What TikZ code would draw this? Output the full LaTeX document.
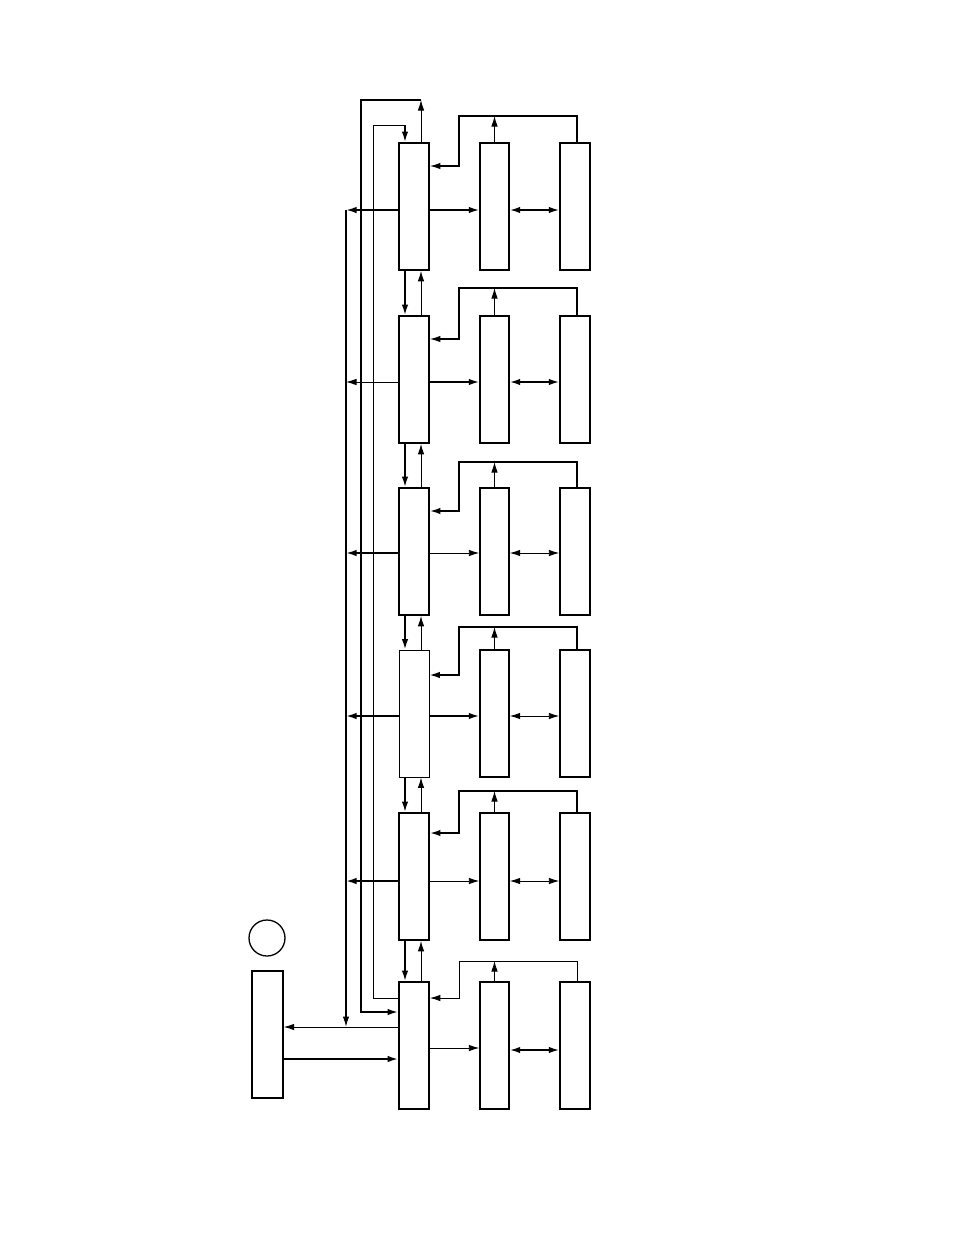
\documentclass[tikz,border=0pt]{standalone}
\usetikzlibrary{arrows.meta,calc}
\begin{document}
\begin{tikzpicture}[x=1pt,y=-1pt,
 thk/.style={line width=1.8pt},
 thn/.style={line width=0.9pt},
 med/.style={line width=1.3pt},
 arr/.style={-{Latex[length=10.5pt,width=6.5pt]}},
 darr/.style={{Latex[length=10.5pt,width=6.5pt]}-{Latex[length=10.5pt,width=6.5pt]}},
 mbox/.style={draw,minimum width=30pt,minimum height=127pt,inner sep=0pt},
 sbox/.style={draw,line width=1.4pt,minimum width=29pt,minimum height=127pt,inner sep=0pt},
]
\useasboundingbox (0,0) rectangle (954,1235);
\coordinate (busL) at (346,0);
\coordinate (xd) at (405,0);
\coordinate (xu) at (421,0);
\coordinate (xb) at (577,0);
\coordinate (xf) at (459,0);
\coordinate (tc) at (421,100);
\coordinate (tb) at (405,125);

% boxes and row connectors
\foreach \i/\T/\F/\A/\M/\D/\ls/\rs/\ds/\fs/\mb in {
  1/143/116/166/210/210/1.8/1.8/1.8/1.3/1.8,
  2/316/288/339/382/382/0.9/1.8/1.8/1.3/1.8,
  3/488/462/511/553/553/1.8/0.9/0.9/1.6/1.8,
  4/650/627/675/716/716/1.8/1.8/0.9/1.6/0.9,
  5/813/791/833/881/881/1.8/0.9/0.9/1.8/1.8,
  6/982/961/998/1048/1050/0/0.9/1.8/0.9/1.8}{
  \node[mbox,line width=\mb pt] (m\i) at (414,\T+63.5) {};
  \node[sbox] (a\i) at (494.5,\T+63.5) {};
  \node[sbox,minimum width=30pt] (b\i) at (575,\T+63.5) {};
  \draw[arr,line width=\rs pt] (m\i.east |- 0,\M) -- (a\i.west |- 0,\M);
  \draw[darr,line width=\ds pt] (a\i.east |- 0,\D) -- (b\i.west |- 0,\D);
  \draw[arr,line width=\fs pt] (b\i.north -| xb) -- (xb |- 0,\F) -- (xf |- 0,\F) -- (xf |- 0,\A) -- (m\i.east |- 0,\A);
  \draw[arr,thn] (a\i.north) -- (a\i.north |- 0,\F);
}
% left arrows onto the bus
\foreach \i/\M/\ls in {1/210/1.8,2/382/0.9,3/553/1.8,4/716/1.8,5/881/1.8}{
  \draw[arr,line width=\ls pt] (m\i.west |- 0,\M) -- (busL |- 0,\M);
}
% arrows between rows
\foreach \i [evaluate=\i as \j using int(\i+1)] in {1,...,5}{
  \draw[arr,thk] (m\i.south -| xd) -- (m\j.north -| xd);
  \draw[arr,thn] (m\j.north -| xu) -- (m\i.south -| xu);
}
% top loops
\draw[arr,thn] (m1.north -| xu) -- (tc);
\draw[arr,thk] (tc) -- (361,100) -- (361,1012) -- (m6.west |- 0,1012);
\draw[thn] (m6.west |- 0,998) -- (373,998) -- (373,125) -- (tb);
\draw[arr,thk] (tb) -- (m1.north -| tb);
% bus
\draw[arr,med] (busL |- 0,210) -- (busL |- 0,1027);
% left box and circle
\node[sbox,minimum width=31pt] (L) at (267.5,1034.5) {};
\node[draw,circle,minimum size=36pt,inner sep=0pt,line width=1.3pt] (C) at (267,938) {};
\draw[arr,thn] (m6.west |- 0,1027) -- (L.east |- 0,1027);
\draw[arr,thk] (L.east |- 0,1059) -- (m6.west |- 0,1059);
\end{tikzpicture}
\end{document}
